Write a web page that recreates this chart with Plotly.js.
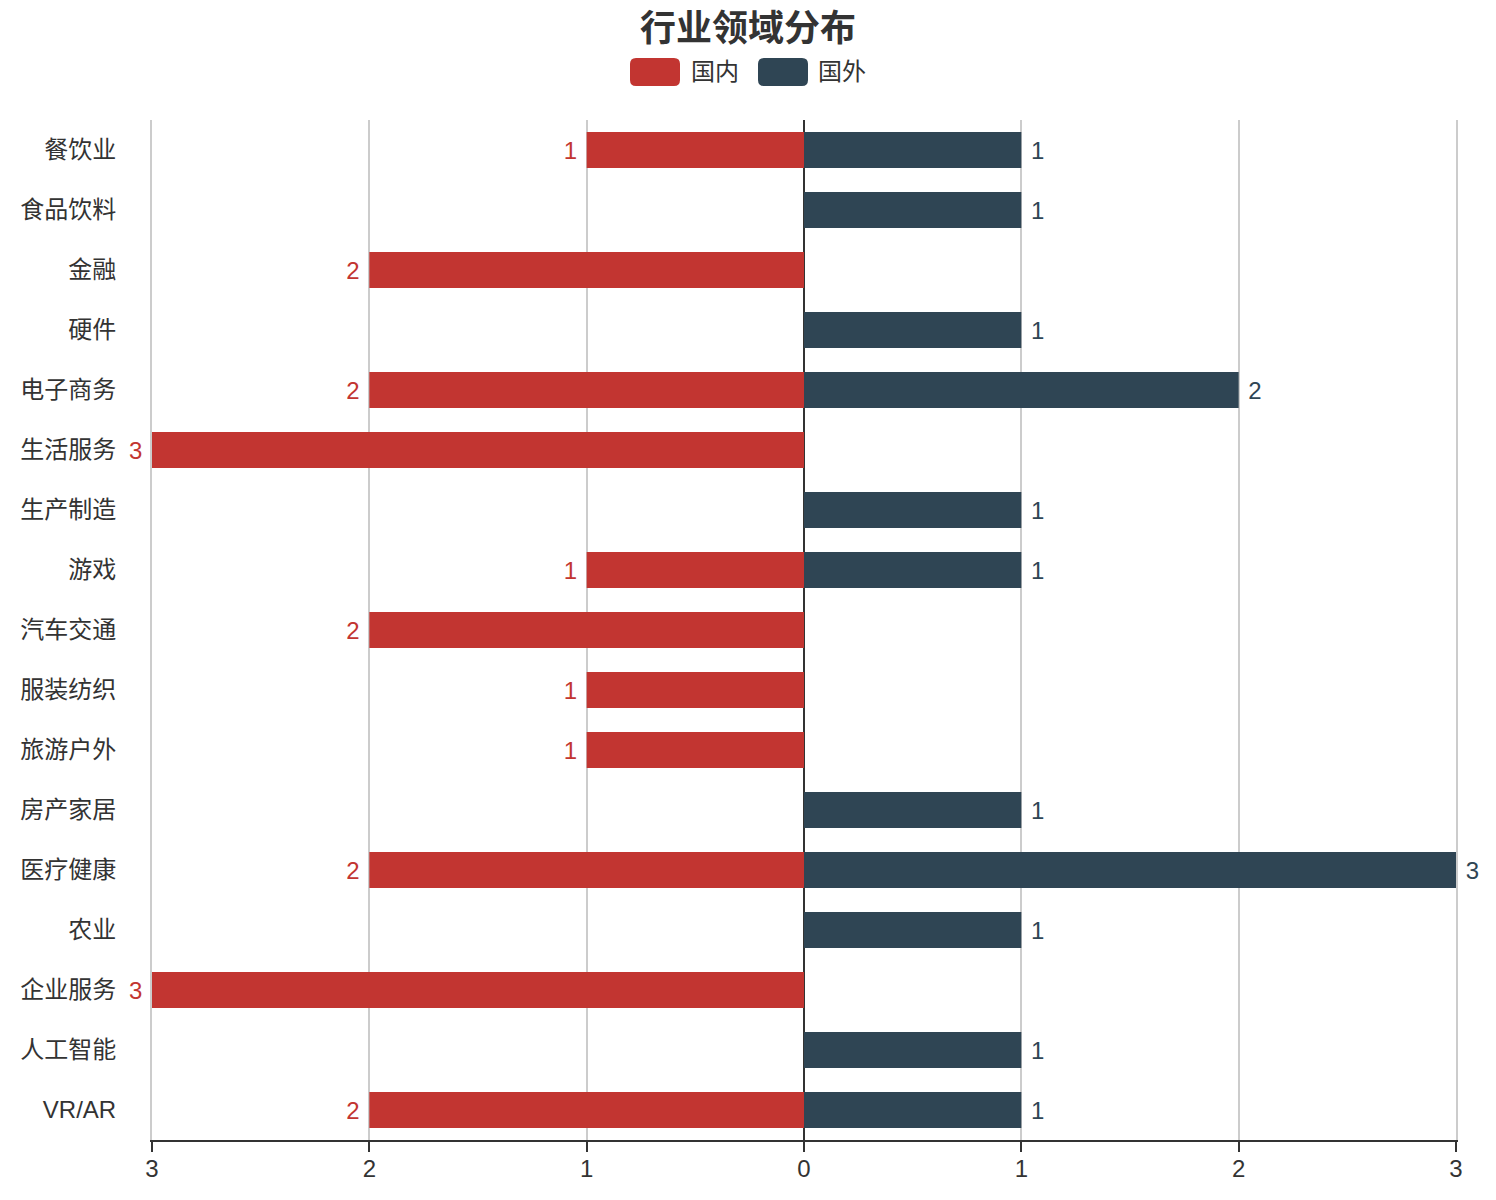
<!DOCTYPE html>
<html>
<head>
<meta charset="utf-8">
<script src="https://cdn.plot.ly/plotly-3.0.1.min.js"></script>
<style>
  html, body { margin: 0; padding: 0; background: #fff; }
  #chart { width: 1496px; height: 1200px; }
</style>
</head>
<body>
<div id="chart"></div>
<script>
/* ─── Data ─── */
const CATEGORIES = ['餐饮业', '食品饮料', '金融', '硬件', '电子商务', '生活服务', '生产制造', '游戏',
  '汽车交通', '服装纺织', '旅游户外', '房产家居', '医疗健康', '农业', '企业服务', '人工智能', 'VR/AR'];
const DOMESTIC = [1, 0, 2, 0, 2, 3, 0, 1, 2, 1, 1, 0, 2, 0, 3, 0, 2];
const FOREIGN  = [1, 1, 0, 1, 2, 0, 1, 1, 0, 0, 0, 1, 3, 1, 0, 1, 1];
const TICK_VALS = [-3, -2, -1, 0, 1, 2, 3];
const TICK_TEXT = ['3', '2', '1', '0', '1', '2', '3'];
const SERIES_NAMES = ['国内', '国外'];

/* ─── Style ─── */
const RED = '#c23531';
const NAVY = '#2f4554';
const TEXT = '#333333';
const FONT = '"Liberation Sans", "Noto Sans CJK SC", sans-serif';

// plot area in pixels (used only to place the hand-drawn legend)
const PLOT = { l: 152, r: 1456, t: 120, b: 1140 };
const px = x => (x - PLOT.l) / (PLOT.r - PLOT.l);
const py = y => (PLOT.b - y) / (PLOT.b - PLOT.t);

function roundRect(x0, y0, x1, y1, r) {
  const X = px, Y = py;
  return `M${X(x0 + r)},${Y(y0)} L${X(x1 - r)},${Y(y0)} Q${X(x1)},${Y(y0)} ${X(x1)},${Y(y0 + r)} ` +
    `L${X(x1)},${Y(y1 - r)} Q${X(x1)},${Y(y1)} ${X(x1 - r)},${Y(y1)} L${X(x0 + r)},${Y(y1)} ` +
    `Q${X(x0)},${Y(y1)} ${X(x0)},${Y(y1 - r)} L${X(x0)},${Y(y0 + r)} Q${X(x0)},${Y(y0)} ${X(x0 + r)},${Y(y0)} Z`;
}

const nz = v => (v === 0 ? null : v);

const traces = [
  {
    type: 'bar',
    orientation: 'h',
    name: SERIES_NAMES[0],
    y: CATEGORIES,
    x: DOMESTIC.map(v => nz(-v)),
    text: DOMESTIC.map(v => (v === 0 ? '' : String(v))),
    texttemplate: '%{text}\u00a0',
    textposition: 'outside',
    constraintext: 'none',
    cliponaxis: false,
    textfont: { color: RED, size: 24, family: FONT },
    marker: { color: RED },
    hoverinfo: 'skip',
  },
  {
    type: 'bar',
    orientation: 'h',
    name: SERIES_NAMES[1],
    y: CATEGORIES,
    x: FOREIGN.map(nz),
    text: FOREIGN.map(v => (v === 0 ? '' : String(v))),
    texttemplate: '\u00a0%{text}',
    textposition: 'outside',
    constraintext: 'none',
    cliponaxis: false,
    textfont: { color: NAVY, size: 24, family: FONT },
    marker: { color: NAVY },
    hoverinfo: 'skip',
  },
];

const layout = {
  width: 1496,
  height: 1200,
  paper_bgcolor: '#fff',
  plot_bgcolor: '#fff',
  font: { family: FONT, color: TEXT, size: 24 },
  margin: { l: PLOT.l, r: 1496 - PLOT.r, t: PLOT.t, b: 1200 - PLOT.b },
  showlegend: false,
  barmode: 'relative',
  bargap: 0.4,
  title: {
    text: '<b>行业领域分布</b>',
    font: { size: 36, color: TEXT, family: FONT },
    x: 0.5, xanchor: 'center',
    yref: 'container', y: 1 - 28 / 1200, yanchor: 'middle',
  },
  xaxis: {
    range: [-3, 3],
    tickvals: TICK_VALS,
    ticktext: TICK_TEXT,
    showgrid: true,
    gridcolor: '#cccccc',
    gridwidth: 2,
    zeroline: true,
    zerolinecolor: TEXT,
    zerolinewidth: 2,
    showline: true,
    linecolor: TEXT,
    linewidth: 2,
    ticks: 'outside',
    ticklen: 10,
    tickwidth: 2,
    tickcolor: TEXT,
    ticklabelstandoff: -4,
    tickfont: { size: 24, color: TEXT },
    fixedrange: true,
  },
  yaxis: {
    type: 'category',
    categoryorder: 'array',
    categoryarray: CATEGORIES,
    autorange: 'reversed',
    showgrid: false,
    zeroline: false,
    // gray edge lines standing in for the gridlines at -3 and 3
    showline: true,
    linecolor: '#cccccc',
    linewidth: 2,
    mirror: true,
    ticks: '',
    ticklabelstandoff: 29,
    tickfont: { size: 24, color: TEXT },
    fixedrange: true,
  },
  shapes: [
    { type: 'path', xref: 'paper', yref: 'paper', path: roundRect(630, 58, 680, 86, 6),
      fillcolor: RED, line: { width: 0 } },
    { type: 'path', xref: 'paper', yref: 'paper', path: roundRect(758, 58, 808, 86, 6),
      fillcolor: NAVY, line: { width: 0 } },
  ],
  annotations: [
    { xref: 'paper', yref: 'paper', x: px(689), y: py(72), xanchor: 'left', yanchor: 'middle',
      text: SERIES_NAMES[0], showarrow: false, font: { size: 24, color: TEXT } },
    { xref: 'paper', yref: 'paper', x: px(816), y: py(72), xanchor: 'left', yanchor: 'middle',
      text: SERIES_NAMES[1], showarrow: false, font: { size: 24, color: TEXT } },
  ],
};

Plotly.newPlot('chart', traces, layout, { displayModeBar: false, staticPlot: true });
</script>
</body>
</html>
